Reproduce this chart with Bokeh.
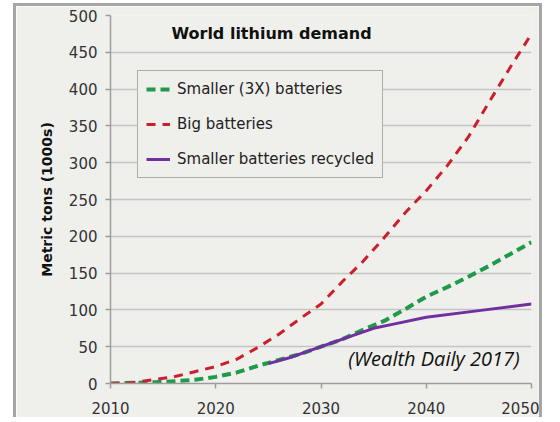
from bokeh.plotting import figure
from bokeh.models import Range1d, FixedTicker, Legend, LegendItem, Label
from bokeh.embed import file_html
from bokeh.resources import INLINE

# ---- data ----
big_years = [2010, 2012, 2014, 2016, 2018, 2020, 2022, 2024, 2026, 2028, 2030,
             2032, 2034, 2036, 2038, 2040, 2042, 2044, 2046, 2048, 2050]
big_vals = [0, 1, 5, 9, 16, 23, 33, 49, 67, 88, 108,
            138, 166, 198, 232, 262, 296, 335, 383, 430, 475]

small_years = [2010, 2015, 2018, 2020, 2022, 2024, 2026, 2028, 2030, 2032, 2034,
               2036, 2038, 2040, 2042, 2044, 2046, 2048, 2050]
small_vals = [0, 2, 5, 9, 15, 24, 32, 40, 50, 60, 73,
              85, 101, 118, 131, 145, 160, 176, 192]

rec_years = [2025, 2027, 2029, 2031, 2033, 2035, 2037, 2040, 2045, 2050]
rec_vals = [27, 35, 45, 55, 65, 75, 81, 90, 99, 108]

x_ticks = [2010, 2020, 2030, 2040, 2050]
y_ticks = list(range(0, 501, 50))

title_text = "World lithium demand"
ylabel_text = "Metric tons (1000s)"
source_text = "(Wealth Daily 2017)"
series_names = ["Smaller (3X) batteries", "Big batteries", "Smaller batteries recycled"]

BG = "#efefec"
GRID = "#c4c4c4"
AXIS = "#9c9c9c"
TXT = "#333333"
GREEN = "#1f9a4a"
RED = "#cc1f2d"
PURPLE = "#7030a0"
FRAME = "#a6a6a6"

p = figure(width=529, height=414,
           x_range=Range1d(2010, 2050), y_range=Range1d(0, 500),
           output_backend="svg", toolbar_location=None,
           min_border_left=94, min_border_right=14,
           min_border_top=9, min_border_bottom=37,
           background_fill_color=BG, border_fill_color=BG,
           stylesheets=[":host { margin-left: 13px; margin-top: 3px; "
                        "border-left: 3px solid %s; border-top: 3px solid %s; "
                        "border-right: 3px solid %s; }" % (FRAME, FRAME, FRAME)])
p.outline_line_color = None

# grid
p.xgrid.grid_line_color = None
p.ygrid.grid_line_color = GRID
p.ygrid.grid_line_width = 1.5
p.ygrid.ticker = FixedTicker(ticks=y_ticks)

# axes
for ax in (p.xaxis[0], p.yaxis[0]):
    ax.axis_line_color = AXIS
    ax.axis_line_width = 1.5
    ax.major_tick_line_color = AXIS
    ax.major_tick_line_width = 1.5
    ax.major_tick_out = 5
    ax.major_tick_in = 0
    ax.minor_tick_line_color = None
    ax.major_label_text_font = "DejaVu Sans"
    ax.major_label_text_font_size = "15px"
    ax.major_label_text_color = TXT

p.xaxis.ticker = FixedTicker(ticks=x_ticks)
p.yaxis.ticker = FixedTicker(ticks=y_ticks)
p.xaxis.major_label_standoff = 13
p.yaxis.major_label_standoff = 8
p.yaxis.axis_label = ylabel_text
p.yaxis.axis_label_text_font = "DejaVu Sans"
p.yaxis.axis_label_text_font_style = "bold"
p.yaxis.axis_label_text_font_size = "14px"
p.yaxis.axis_label_text_color = "#111111"
p.yaxis.axis_label_standoff = 11

# lines
r_green = p.line(small_years, small_vals, line_color=GREEN, line_width=4, line_dash="9 5")
r_purple = p.line(rec_years, rec_vals, line_color=PURPLE, line_width=3)
r_red = p.line(big_years, big_vals, line_color=RED, line_width=3, line_dash="9 7")

legend = Legend(items=[LegendItem(label=series_names[0], renderers=[r_green]),
                       LegendItem(label=series_names[1], renderers=[r_red]),
                       LegendItem(label=series_names[2], renderers=[r_purple])],
                location=(27, 205))
legend.label_text_font = "DejaVu Sans"
legend.label_text_font_size = "15px"
legend.label_text_color = "#222222"
legend.glyph_width = 24
legend.glyph_height = 20
legend.label_height = 20
legend.spacing = 15
legend.padding = 8
legend.margin = 0
legend.label_standoff = 7
legend.border_line_color = "#6e6e6e"
legend.border_line_width = 1.5
legend.background_fill_color = BG
legend.background_fill_alpha = 1
p.add_layout(legend)

p.add_layout(Label(x=2025.3, y=475, text=title_text, text_align="center",
                   text_baseline="middle", text_font="DejaVu Sans",
                   text_font_style="bold", text_font_size="16px", text_color="#111111"))
p.add_layout(Label(x=2032.6, y=34, text=source_text, text_align="left",
                   text_baseline="middle", text_font="Open Sans",
                   text_font_style="italic", text_font_size="20px", text_color="#111111"))

open("out.html", "w").write(file_html(p, INLINE))
